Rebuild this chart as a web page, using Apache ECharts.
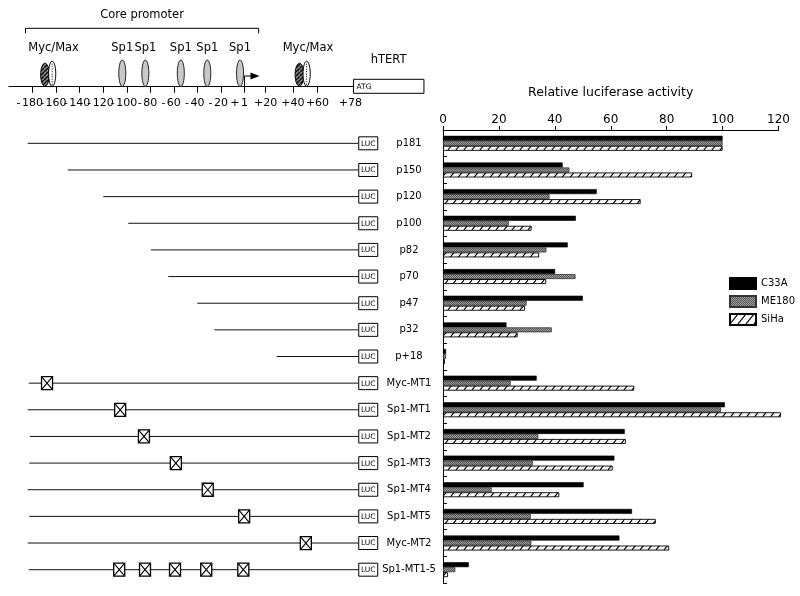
<!DOCTYPE html>
<html><head><meta charset="utf-8">
<script src="https://cdn.jsdelivr.net/npm/echarts@6/dist/echarts.min.js"></script>
<style>html,body{margin:0;padding:0;background:#fff}#c{width:800px;height:596px}</style>
</head><body><div id="c"></div>
<script>
// ---------- DATA ----------
const constructs = ['p181','p150','p120','p100','p82','p70','p47','p32','p+18','Myc-MT1','Sp1-MT1','Sp1-MT2','Sp1-MT3','Sp1-MT4','Sp1-MT5','Myc-MT2','Sp1-MT1-5'];
const c33a  = [100, 42.8, 55, 47.5, 44.6, 40.1, 50, 22.7, 1.1, 33.5, 100.8, 65, 61.3, 50.3, 67.6, 63.1, 9.2];
const me180 = [100, 45.2, 38.1, 23.5, 37, 47.4, 29.9, 38.9, 1.1, 24.2, 99.4, 34.1, 32.1, 17.4, 31.4, 31.6, 4.4];
const siha  = [100, 89.1, 70.7, 31.7, 34.4, 36.9, 29.3, 26.7, 0.7, 68.4, 120.9, 65.4, 60.7, 41.6, 76.1, 80.9, 1.8];
const seriesNames = ['C33A','ME180','SiHa'];
// construct diagram (positions in promoter units, as drawn)
const constructStart = [-184.1,-150.1,-119.9,-98.7,-79.4,-64.7,-40.1,-25.6,27.3,-183.2,-184.1,-182.3,-182.8,-184.1,-182.8,-184.1,-183.2];
const mutations = [[],[],[],[],[],[],[],[],[],[-167.7],[-105.6],[-85.4],[-58.3],[-31.2],[-0.3],[52.1],[-106.4,-84.5,-59,-32.5,-1]];
const lucPos = 96.6;
// promoter ruler
const rulerTicks  = [-180,-160,-140,-120,-100,-80,-60,-40,-20,0,18,41,62];
const rulerLabelPos = [-180,-160,-140,-120,-100,-80,-60,-40,-20,0,18,41,62,90];
const rulerLabels = ['-180','-160','-140','-120','-100','-80','-60','-40','-20','+1','+20','+40','+60','+78'];
const sp1Sites = [-103.8,-84.2,-54.1,-31.6,-3.8];
const mycSites = [-166.4, 49.7];
const corePromoter = [-186, 12];
const tssPos = 0;
const hTERTBox = [92.6, 152.4];

// ---------- PATTERNS ----------
function hatchPattern(w, h, bg, fg, lw) {
  const c = document.createElement('canvas'); c.width = w; c.height = h;
  const g = c.getContext('2d');
  g.fillStyle = bg; g.fillRect(0,0,w,h);
  g.strokeStyle = fg; g.lineWidth = lw;
  for (const dx of [-w, 0, w]) { g.beginPath(); g.moveTo(dx, h); g.lineTo(dx + w, 0); g.stroke(); }
  return c;
}
function checkerPattern() {
  const c = document.createElement('canvas'); c.width = 2; c.height = 2;
  const g = c.getContext('2d');
  g.fillStyle = '#9a9a9a'; g.fillRect(0,0,2,2);
  g.fillStyle = '#5a5a5a'; g.fillRect(0,0,1,1); g.fillRect(1,1,1,1);
  return c;
}
const sihaPat = { image: hatchPattern(8, 10, '#ffffff', '#000000', 1.1), repeat: 'repeat' };
const mePat = { image: checkerPattern(), repeat: 'repeat' };
const mycPat = { image: hatchPattern(4, 4, '#8a8a8a', '#000000', 1.3), repeat: 'repeat' };

const FONT = 'DejaVu Sans';
const RULER_FONT = '11px "' + FONT + '"';
const measureCtx = document.createElement('canvas').getContext('2d');
measureCtx.font = RULER_FONT;

const chart = echarts.init(document.getElementById('c'), null, { renderer: 'canvas' });

function renderConstruct(params, api) {
  const i = api.value(1);
  const s = api.coord([api.value(0), i]);
  const e = api.coord([lucPos, i]);
  const children = [
    { type: 'line', shape: { x1: s[0], y1: s[1], x2: e[0], y2: e[1] }, style: { stroke: '#111', lineWidth: 1 } },
    { type: 'rect', shape: { x: e[0] + 0.5, y: e[1] - 6.5, width: 19, height: 13 }, style: { fill: '#fff', stroke: '#000', lineWidth: 1 } },
    { type: 'text', style: { x: e[0] + 10, y: e[1] + 0.5, text: 'LUC', fill: '#000', font: '7.5px "' + FONT + '"', align: 'center', verticalAlign: 'middle' } }
  ];
  (mutations[params.dataIndex] || []).forEach(m => {
    const p = api.coord([m, i]);
    const x0 = p[0] - 5.5, y0 = p[1] - 6.5, w = 11, h = 13;
    children.push({ type: 'rect', shape: { x: x0, y: y0, width: w, height: h }, style: { fill: '#fff', stroke: '#000', lineWidth: 1.3 } });
    children.push({ type: 'line', shape: { x1: x0, y1: y0, x2: x0 + w, y2: y0 + h }, style: { stroke: '#000', lineWidth: 1.1 } });
    children.push({ type: 'line', shape: { x1: x0 + w, y1: y0, x2: x0, y2: y0 + h }, style: { stroke: '#000', lineWidth: 1.1 } });
  });
  return { type: 'group', children };
}

function renderRulerLabel(params, api) {
  const p = api.coord([api.value(0), 0]);
  const lab = rulerLabels[params.dataIndex];
  const y = p[1] + 16;
  const hang = lab[0] === '-' || lab === '+1';
  if (!hang) {
    return { type: 'text', style: { x: p[0], y, text: lab, fill: '#000', font: RULER_FONT, align: 'center', verticalAlign: 'middle' } };
  }
  const digits = lab.slice(1);
  const w = measureCtx.measureText(digits).width;
  return { type: 'group', children: [
    { type: 'text', style: { x: p[0], y, text: digits, fill: '#000', font: RULER_FONT, align: 'center', verticalAlign: 'middle' } },
    { type: 'text', style: { x: p[0] - w / 2 - 1.5, y, text: lab[0], fill: '#000', font: RULER_FONT, align: 'right', verticalAlign: 'middle' } }
  ]};
}

function renderSp1(params, api) {
  const p = api.coord([api.value(0), 0]);
  return { type: 'group', children: [
    { type: 'ellipse', shape: { cx: p[0], cy: p[1] - 13.5, rx: 3.5, ry: 13.2 }, style: { fill: '#c8c8c8', stroke: '#222', lineWidth: 1 } },
    { type: 'text', style: { x: p[0], y: p[1] - 38.5, text: 'Sp1', fill: '#000', font: '11.5px "' + FONT + '"', align: 'center', verticalAlign: 'middle' } }
  ]};
}
function renderMyc(params, api) {
  const p = api.coord([api.value(0), 0]);
  const xd = p[0] - 3.6, xw = p[0] + 3.6;
  return { type: 'group', children: [
    { type: 'ellipse', shape: { cx: xd, cy: p[1] - 12, rx: 4.3, ry: 11.5 }, style: { fill: mycPat, stroke: '#000', lineWidth: 1 } },
    { type: 'ellipse', shape: { cx: xw, cy: p[1] - 13, rx: 3.6, ry: 12.5 }, style: { fill: '#fff', stroke: '#000', lineWidth: 1 } },
    { type: 'line', shape: { x1: xw, y1: p[1] - 23, x2: xw, y2: p[1] - 2 }, style: { stroke: '#000', lineWidth: 1, lineDash: [1, 1.5] } },
    { type: 'text', style: { x: p[0] + 5, y: p[1] - 38.5, text: 'Myc/Max', fill: '#000', font: '11.5px "' + FONT + '"', align: 'center', verticalAlign: 'middle' } }
  ]};
}
function renderCore(params, api) {
  const a = api.coord([api.value(0), 0]);
  const b = api.coord([api.value(1), 0]);
  const y = a[1] - 58.4;
  return { type: 'group', children: [
    { type: 'polyline', shape: { points: [[a[0], y + 5], [a[0], y], [b[0], y], [b[0], y + 5]] }, style: { stroke: '#000', lineWidth: 1, fill: null } },
    { type: 'text', style: { x: (a[0] + b[0]) / 2, y: a[1] - 71.5, text: 'Core promoter', fill: '#000', font: '11.5px "' + FONT + '"', align: 'center', verticalAlign: 'middle' } }
  ]};
}
function renderTss(params, api) {
  const p = api.coord([api.value(0), 0]);
  const y = p[1] - 10.7;
  return { type: 'group', children: [
    { type: 'polyline', shape: { points: [[p[0], p[1]], [p[0], y], [p[0] + 7, y]] }, style: { stroke: '#000', lineWidth: 1, fill: null } },
    { type: 'polygon', shape: { points: [[p[0] + 6, y - 3.5], [p[0] + 15, y], [p[0] + 6, y + 3.5]] }, style: { fill: '#000' } }
  ]};
}
function renderBox(params, api) {
  const a = api.coord([api.value(0), 0]);
  const b = api.coord([api.value(1), 0]);
  return { type: 'group', children: [
    { type: 'rect', shape: { x: a[0], y: a[1] - 7.4, width: b[0] - a[0], height: 14 }, style: { fill: '#fff', stroke: '#000', lineWidth: 1 } },
    { type: 'text', style: { x: a[0] + 3, y: a[1] + 0.5, text: 'ATG', fill: '#000', font: '7.5px "' + FONT + '"', align: 'left', verticalAlign: 'middle' } },
    { type: 'text', style: { x: a[0] + 35, y: a[1] - 26.7, text: 'hTERT', fill: '#000', font: '11.5px "' + FONT + '"', align: 'center', verticalAlign: 'middle' } }
  ]};
}

const option = {
  animation: false,
  backgroundColor: '#fff',
  textStyle: { fontFamily: FONT, color: '#000' },
  legend: {
    data: seriesNames, orient: 'vertical', left: 724, top: 272,
    itemWidth: 26, itemHeight: 11, itemGap: 5, icon: 'rect',
    textStyle: { fontFamily: FONT, fontSize: 10, color: '#000' }
  },
  grid: [
    { left: 443, top: 130, width: 335.5, height: 453 },
    { left: 9, top: 130, width: 353.25, height: 453 },
    { left: 9, top: 10, width: 353.25, height: 76.7 }
  ],
  xAxis: [
    { type: 'value', gridIndex: 0, position: 'top', min: 0, max: 120, interval: 20,
      name: 'Relative luciferase activity', nameLocation: 'middle', nameGap: 31,
      nameTextStyle: { fontFamily: FONT, fontSize: 12.5, color: '#000' },
      axisLine: { show: true, lineStyle: { color: '#000', width: 1 } },
      axisTick: { show: true, length: 4, lineStyle: { color: '#000' } },
      axisLabel: { fontFamily: FONT, fontSize: 12, color: '#000', margin: 4 },
      splitLine: { show: false } },
    { type: 'value', gridIndex: 1, min: -200, max: 100, show: false },
    { type: 'value', gridIndex: 2, position: 'bottom', min: -200, max: 100,
      axisLine: { show: true, lineStyle: { color: '#000', width: 1 } },
      axisTick: { show: true, length: 6, customValues: rulerTicks, lineStyle: { color: '#000' } },
      axisLabel: { show: false },
      splitLine: { show: false } }
  ],
  yAxis: [
    { type: 'category', gridIndex: 0, data: constructs, inverse: true,
      axisLine: { show: true, lineStyle: { color: '#000', width: 1 } },
      axisTick: { show: true, inside: true, length: 4, lineStyle: { color: '#000' } },
      axisLabel: { fontFamily: FONT, fontSize: 10, color: '#000', margin: 34, align: 'center' } },
    { type: 'category', gridIndex: 1, data: constructs, inverse: true, show: false },
    { type: 'value', gridIndex: 2, min: 0, max: 1, show: false }
  ],
  series: [
    { name: 'C33A', type: 'bar', xAxisIndex: 0, yAxisIndex: 0, data: c33a, barWidth: 5, barGap: '0%', clip: false,
      itemStyle: { color: '#000', borderColor: '#000', borderWidth: 0.6 } },
    { name: 'ME180', type: 'bar', xAxisIndex: 0, yAxisIndex: 0, data: me180, barWidth: 5, barGap: '0%', clip: false,
      itemStyle: { color: mePat, borderColor: '#333', borderWidth: 0.8 } },
    { name: 'SiHa', type: 'bar', xAxisIndex: 0, yAxisIndex: 0, data: siha, barWidth: 5, barGap: '0%', clip: false,
      itemStyle: { color: sihaPat, borderColor: '#000', borderWidth: 0.9 } },
    { type: 'custom', xAxisIndex: 1, yAxisIndex: 1, clip: false, silent: true,
      data: constructs.map((c, i) => [constructStart[i], i]), renderItem: renderConstruct },
    { type: 'custom', xAxisIndex: 2, yAxisIndex: 2, clip: false, silent: true, data: rulerLabelPos.map(v => [v]), renderItem: renderRulerLabel },
    { type: 'custom', xAxisIndex: 2, yAxisIndex: 2, clip: false, silent: true, data: sp1Sites.map(v => [v]), renderItem: renderSp1 },
    { type: 'custom', xAxisIndex: 2, yAxisIndex: 2, clip: false, silent: true, data: mycSites.map(v => [v]), renderItem: renderMyc },
    { type: 'custom', xAxisIndex: 2, yAxisIndex: 2, clip: false, silent: true, data: [corePromoter], renderItem: renderCore },
    { type: 'custom', xAxisIndex: 2, yAxisIndex: 2, clip: false, silent: true, data: [[tssPos]], renderItem: renderTss },
    { type: 'custom', xAxisIndex: 2, yAxisIndex: 2, clip: false, silent: true, data: [hTERTBox], renderItem: renderBox }
  ]
};
chart.setOption(option);
</script></body></html>
